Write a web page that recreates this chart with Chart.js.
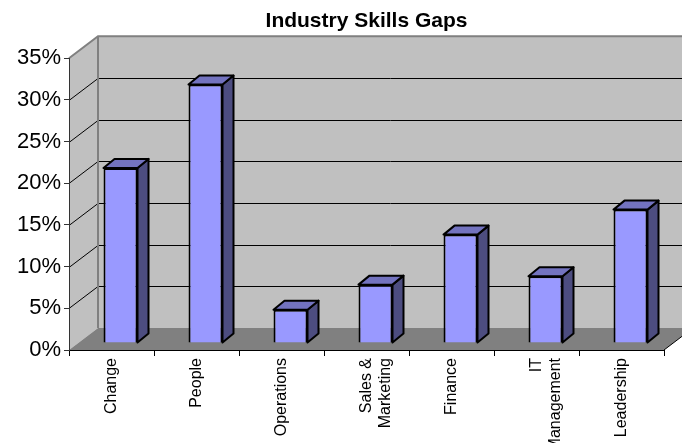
<!DOCTYPE html>
<html>
<head>
<meta charset="utf-8">
<title>Industry Skills Gaps</title>
<script src="https://cdn.jsdelivr.net/npm/chart.js"></script>
<style>
  html, body { margin: 0; padding: 0; background: #fff; }
  canvas { display: block; }
</style>
</head>
<body>
<canvas id="skillsChart" width="682" height="443"></canvas>
<script>
// skill areas and the share of respondents reporting a gap
const categories = ['Change', 'People', 'Operations', ['Sales &', 'Marketing'], 'Finance', ['IT', 'Management'], 'Leadership'];
const gapValues = [21, 31, 4, 7, 13, 8, 16];
const tickValues = [0, 5, 10, 15, 20, 25, 30, 35];

const wallDepth = { x: 29, y: 22 }; // front plane -> back wall
const barShift = { x: 9, y: 7 };    // front face of the bars sits a bit behind the axis
const barDepth = { x: 11, y: 9 };   // thickness of each bar

const wallColor = '#c0c0c0';
const floorColor = '#808080';
const edgeColor = '#808080';
const barFront = '#9999ff';
const barTop = '#7373bf';
const barSide = '#4d4d80';
const fontFamily = 'Arial, "Liberation Sans", sans-serif';

function poly(ctx, pts, fill, stroke, lw) {
    ctx.beginPath();
    ctx.moveTo(pts[0][0], pts[0][1]);
    for (let i = 1; i < pts.length; i++) ctx.lineTo(pts[i][0], pts[i][1]);
    ctx.closePath();
    if (fill) { ctx.fillStyle = fill; ctx.fill(); }
    if (stroke) { ctx.strokeStyle = stroke; ctx.lineWidth = lw || 1; ctx.stroke(); }
}

// walls, floor and the fake depth of the bars
const box3d = {
    id: 'box3d',
    beforeDraw(chart) {
        const { ctx, chartArea: a, scales: { y } } = chart;
        const L = a.left, R = a.right;
        const T = y.getPixelForValue(tickValues[tickValues.length - 1]);
        const B = y.getPixelForValue(0);
        const dx = wallDepth.x, dy = wallDepth.y;
        ctx.save();
        ctx.fillStyle = wallColor;
        ctx.fillRect(L + dx, T - dy, R - L, B - T);
        poly(ctx, [[L, B], [L, T], [L + dx, T - dy], [L + dx, B - dy]], wallColor);
        poly(ctx, [[L, B], [L + dx, B - dy], [R + dx, B - dy], [R, B]], floorColor);

        // gridlines run across the side wall and the back wall
        ctx.strokeStyle = '#000';
        ctx.lineWidth = 1;
        tickValues.slice(1, -1).forEach(v => {
            const py = Math.round(y.getPixelForValue(v)) + 0.5;
            ctx.beginPath();
            ctx.moveTo(L, py);
            ctx.lineTo(L + dx, py - dy);
            ctx.lineTo(R + dx, py - dy);
            ctx.stroke();
        });

        ctx.strokeStyle = edgeColor;
        ctx.lineWidth = 2;
        ctx.beginPath();
        ctx.moveTo(L, T);
        ctx.lineTo(L + dx, T - dy);
        ctx.lineTo(R + dx, T - dy);
        ctx.moveTo(L + dx, T - dy);
        ctx.lineTo(L + dx, B - dy);
        ctx.stroke();

        ctx.strokeStyle = '#000';
        ctx.lineWidth = 1;
        ctx.beginPath();
        ctx.moveTo(R, B);
        ctx.lineTo(R + dx, B - dy);
        ctx.stroke();
        ctx.restore();
    },
    beforeDatasetsDraw(chart) {
        const ctx = chart.ctx;
        ctx.save();
        ctx.lineJoin = 'round';
        chart.getDatasetMeta(0).data.forEach(bar => {
            const l = bar.x - bar.width / 2 + barShift.x;
            const r = bar.x + bar.width / 2 + barShift.x;
            const t = bar.y - barShift.y;
            const b = bar.base - barShift.y;
            const ox = barDepth.x, oy = barDepth.y;
            poly(ctx, [[r, t], [r + ox, t - oy], [r + ox, b - oy], [r, b]], barSide, '#000', 2);
            poly(ctx, [[l, t], [l + ox, t - oy], [r + ox, t - oy], [r, t]], barTop, '#000', 2);
        });
        ctx.restore();
        // the front faces are drawn by Chart.js, pushed back into the box
        ctx.save();
        ctx.translate(barShift.x, -barShift.y);
    },
    afterDatasetsDraw(chart) {
        chart.ctx.restore();
    }
};

const ctx = document.getElementById('skillsChart').getContext('2d');
new Chart(ctx, {
    type: 'bar',
    data: {
        labels: categories,
        datasets: [{
            label: 'Skills gap',
            data: gapValues,
            backgroundColor: barFront,
            borderColor: '#000',
            borderWidth: 2,
            barPercentage: 0.4,
            categoryPercentage: 1
        }]
    },
    options: {
        responsive: false,
        animation: false,
        layout: { padding: { left: 0, right: 18, top: 0, bottom: 0 } },
        font: { family: fontFamily },
        scales: {
            x: {
                grid: { drawOnChartArea: false, color: '#000', tickLength: 6, offset: true },
                border: { color: '#000', width: 1 },
                ticks: {
                    color: '#000',
                    autoSkip: false,
                    maxRotation: 90,
                    minRotation: 90,
                    padding: 2,
                    font: { family: fontFamily, size: 16 }
                },
                afterFit(scale) { scale.height = 93; }
            },
            y: {
                min: 0,
                max: 35,
                grid: { drawOnChartArea: false, color: '#333', tickLength: 5 },
                border: { color: '#333', width: 1 },
                ticks: {
                    stepSize: 5,
                    color: '#000',
                    padding: 3,
                    font: { family: fontFamily, size: 22 },
                    callback: v => v + '%'
                },
                afterFit(scale) { scale.width = 69; }
            }
        },
        plugins: {
            legend: { display: false },
            tooltip: { enabled: false },
            title: {
                display: true,
                text: 'Industry Skills Gaps',
                fullSize: false,
                color: '#000',
                font: { family: fontFamily, size: 21, weight: 'bold' },
                padding: { top: 9, bottom: 24 }
            }
        }
    },
    plugins: [box3d]
});
</script>
</body>
</html>
